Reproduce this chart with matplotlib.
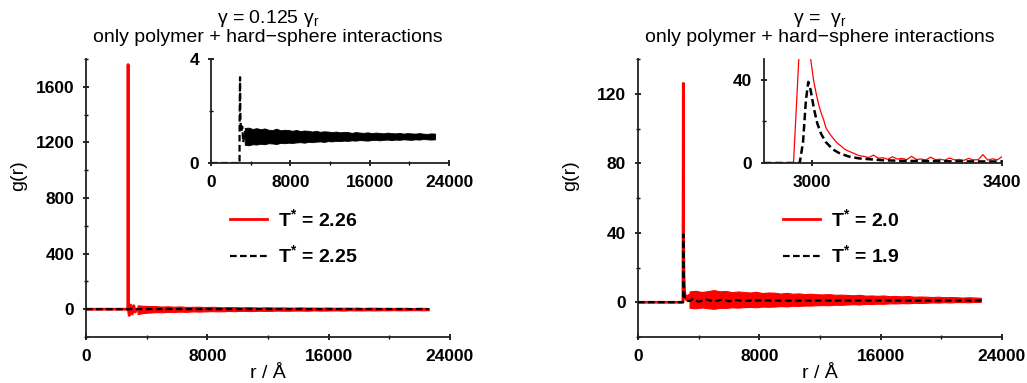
import matplotlib
matplotlib.use("Agg")
import matplotlib.pyplot as plt
from matplotlib.ticker import MultipleLocator

plt.rcParams['font.family'] = ['Liberation Sans', 'DejaVu Sans']
plt.rcParams['mathtext.fontset'] = 'custom'
plt.rcParams['mathtext.rm'] = 'Liberation Sans'
plt.rcParams['mathtext.it'] = 'Liberation Sans'
plt.rcParams['mathtext.bf'] = 'Liberation Sans:bold'

# ---- data ----
# common grid for the noisy tails (r in Angstrom)
r_tail = [3400, 3800, 4200, 4600, 5000, 5400, 5800, 6200, 6600, 7000,
          7400, 7800, 8200, 8600, 9000, 9400, 9800, 10200, 10600, 11000,
          11400, 11800, 12200, 12600, 13000, 13400, 13800, 14200, 14600, 15000,
          15400, 15800, 16200, 16600, 17000, 17400, 17800, 18200, 18600, 19000,
          19400, 19800, 20200, 20600, 21000, 21400, 21800, 22200, 22600]

# left panel, gamma = 0.125 gamma_r
# T* = 2.26 (red): spike then noisy tail
red_L_r = [0, 2760, 2775, 2790, 2850, 2950, 3050, 3150, 3250, 3400]
red_L_g = [0, 0, 1760, 0, -45, 30, -35, 25, -20, 0]
red_L_hi = [28, 24, 23, 22, 19, 21, 18, 20, 16, 17, 18, 15, 17, 16, 14, 16, 15, 13, 15, 14,
            12, 14, 13, 12, 13, 11, 12, 13, 11, 12, 10, 12, 11, 10, 11, 10, 11, 9, 10, 11,
            9, 10, 9, 9, 10, 8, 9, 10, 8]
red_L_lo = [-35, -27, -24, -21, -22, -19, -20, -17, -19, -16, -17, -16, -14, -15, -15, -13, -14, -12, -13, -13,
            -11, -12, -12, -10, -11, -11, -10, -10, -11, -9, -10, -10, -9, -9, -10, -8, -9, -9, -8,
            -9, -8, -8, -7, -8, -8, -7, -7, -8, -7]

# T* = 2.25 (black dashed)
blk_L_r = [0, 2880, 2882, 2900, 2915, 2930, 2945, 2960, 2990, 3050, 3150, 3250, 3400]
blk_L_g = [0, 0, 1.3, 2.2, 2.9, 3.3, 2.6, 1.9, 1.5, 1.2, 1.4, 0.8, 1.2]
blk_L_hi = [1.35, 1.36, 1.31, 1.34, 1.30, 1.33, 1.28, 1.27, 1.32, 1.26, 1.28, 1.27, 1.24, 1.27, 1.23, 1.25,
            1.24, 1.21, 1.24, 1.20, 1.22, 1.21, 1.19, 1.21, 1.18, 1.20, 1.19, 1.16, 1.19, 1.17, 1.16, 1.18,
            1.15, 1.17, 1.16, 1.14, 1.17, 1.15, 1.14, 1.16, 1.13, 1.15, 1.14, 1.13, 1.15, 1.13, 1.12, 1.14, 1.13]
blk_L_lo = [0.70, 0.68, 0.72, 0.71, 0.74, 0.72, 0.76, 0.75, 0.73, 0.77, 0.76, 0.78, 0.77, 0.79, 0.80, 0.78,
            0.81, 0.80, 0.82, 0.83, 0.81, 0.84, 0.83, 0.85, 0.84, 0.86, 0.85, 0.87, 0.86, 0.88, 0.87, 0.86,
            0.88, 0.89, 0.87, 0.89, 0.90, 0.88, 0.90, 0.89, 0.91, 0.90, 0.89, 0.91, 0.90, 0.92, 0.91, 0.90, 0.91]

# right panel, gamma = gamma_r
# T* = 2.0 (red)
red_R_r = [0, 2962, 2990, 2998, 3004, 3010, 3015, 3020, 3025, 3030, 3038, 3045, 3052, 3060, 3070,
           3080, 3090, 3100, 3110, 3120, 3130, 3140, 3150, 3160, 3170, 3180, 3190, 3200, 3210,
           3220, 3230, 3240, 3250, 3260, 3270, 3280, 3290, 3300, 3310, 3320, 3330, 3340, 3350,
           3360, 3370, 3380, 3390, 3400]
red_R_g = [0, 0, 126, 50, 40, 33, 28, 24, 21, 17, 14, 12, 10, 8.5, 6.5,
           5.5, 4.5, 3.5, 3.2, 2.6, 3.8, 2.3, 2.5, 1.8, 3.0, 1.9, 2.2, 1.6, 3.2,
           1.7, 1.9, 1.5, 2.8, 1.6, 1.8, 1.4, 2.4, 1.5, 1.7, 1.3, 2.2, 1.5, 1.6,
           4.0, 1.4, 2.0, 1.5, 3.0]
red_R_hi = [6.2, 6.6, 5.9, 6.4, 7.0, 6.3, 6.5, 5.8, 6.2, 5.9, 5.6, 6.0, 5.3, 5.6, 5.5, 5.0,
            5.4, 4.9, 5.1, 4.7, 4.9, 4.6, 4.5, 4.7, 4.3, 4.4, 4.2, 4.0, 4.3, 3.8, 3.9, 3.7,
            3.9, 3.5, 3.6, 3.4, 3.6, 3.2, 3.3, 3.2, 3.0, 3.2, 2.9, 3.0, 2.9, 2.7, 2.9, 2.7, 2.6]
red_R_lo = [-3.2, -3.5, -3.0, -3.4, -3.8, -3.2, -3.3, -2.9, -3.1, -2.8, -2.7, -2.9, -2.5, -2.6, -2.5, -2.2,
            -2.4, -2.0, -2.1, -1.9, -1.9, -1.7, -1.6, -1.7, -1.4, -1.5, -1.3, -1.1, -1.3, -0.9, -1.0, -0.8,
            -0.9, -0.6, -0.7, -0.5, -0.6, -0.3, -0.4, -0.3, -0.1, -0.2, 0.0, -0.1, 0.1, 0.1, 0.0, 0.2, 0.2]

# T* = 1.9 (black dashed)
blk_R_r = [0, 2975, 2982, 2988, 2993, 2998, 3005, 3012, 3020, 3030, 3045, 3060, 3080, 3100,
           3150, 3200, 3300, 3400, 3600, 4000, 4500, 5000, 5500, 6000, 6500, 7000,
           8000, 10000, 12000, 14000, 16000, 18000, 20000, 22700]
blk_R_g = [0, 0, 10, 30, 39, 35, 26, 19, 14, 10, 6.5, 4.5, 3.0, 2.2,
           1.3, 1.0, 0.8, 0.7, 1.8, 0.3, 1.6, 0.5, 1.4, 0.6, 1.2, 0.8,
           1.1, 0.9, 1.0, 1.0, 1.0, 1.0, 1.0, 1.0]

labels_L = [r'$\mathbf{T^{*}}$ = 2.26', r'$\mathbf{T^{*}}$ = 2.25']
labels_R = [r'$\mathbf{T^{*}}$ = 2.0', r'$\mathbf{T^{*}}$ = 1.9']
titles = ['γ = 0.125 γ$_\\mathrm{r}$', 'γ =  γ$_\\mathrm{r}$']
subtitle = 'only polymer + hard\u2212sphere interactions'

RED = '#ff0000'
DASH = (3, 1.5)

W, H = 1027, 383
fig = plt.figure(figsize=(W / 100, H / 100), dpi=100)


def px_axes(x0, y0, x1, y1):
    # axes from pixel box (left, top, right, bottom)
    return fig.add_axes([x0 / W, 1 - y1 / H, (x1 - x0) / W, (y1 - y0) / H])


def style(ax):
    for s in ['top', 'right']:
        ax.spines[s].set_visible(False)
    for s in ['left', 'bottom']:
        ax.spines[s].set_linewidth(1.3)
        ax.spines[s].set_color('#222222')
    ax.tick_params(which='major', direction='inout', length=5, width=1.2,
                   labelsize=12.5, pad=6)
    ax.tick_params(which='minor', direction='inout', length=3, width=1)
    for t in ax.get_xticklabels() + ax.get_yticklabels():
        t.set_fontweight('bold')


def labels(ax, title, leg_x):
    ax.set_ylabel('g(r)', fontsize=14)
    ax.yaxis.set_label_coords(-59 / 364, 0.58)
    ax.set_xlabel('r / Å', fontsize=14, labelpad=1)
    ax.set_title(title + '\n' + subtitle, fontsize=14, linespacing=1.0, pad=12)
    ax.legend(frameon=False, loc='upper left', bbox_to_anchor=(leg_x / W, 1 - 208 / H),
              bbox_transform=fig.transFigure, handlelength=1.9, handletextpad=0.55,
              labelspacing=0.75, borderpad=0, borderaxespad=0,
              prop={'size': 14, 'weight': 'bold'})


# ---------------- left panel ----------------
axL = px_axes(86, 59, 450, 337)
axL.plot(red_L_r, red_L_g, color=RED, lw=2, zorder=2)
axL.fill_between(r_tail, red_L_lo, red_L_hi, color=RED, lw=0.8, zorder=2)
axL.plot(blk_L_r + r_tail, blk_L_g + [0.5 * (a + b) for a, b in zip(blk_L_hi, blk_L_lo)],
         color='black', lw=1.6, dashes=DASH, zorder=3)
axL.plot([], [], color=RED, lw=2, label=labels_L[0])
axL.plot([], [], color='black', lw=1.6, dashes=DASH, label=labels_L[1])
axL.set_xlim(0, 24000)
axL.set_ylim(-200, 1800)
axL.set_xticks([0, 8000, 16000, 24000])
axL.set_yticks([0, 400, 800, 1200, 1600])
axL.xaxis.set_minor_locator(MultipleLocator(4000))
axL.yaxis.set_minor_locator(MultipleLocator(200))
style(axL)
labels(axL, titles[0], 230)

# inset left
inL = px_axes(211, 59, 449, 163)
inL.plot(blk_L_r, blk_L_g, color='black', lw=1.6, dashes=DASH)
inL.fill_between(r_tail, blk_L_lo, blk_L_hi, color='black', lw=0.6)
inL.plot([blk_L_r[-1], r_tail[0]], [blk_L_g[-1], 0.5 * (blk_L_hi[0] + blk_L_lo[0])], color='black', lw=1.5)
inL.set_xlim(0, 24000)
inL.set_ylim(0, 4)
inL.set_xticks([0, 8000, 16000, 24000])
inL.set_yticks([0, 4])
inL.xaxis.set_minor_locator(MultipleLocator(4000))
inL.yaxis.set_minor_locator(MultipleLocator(2))
inL.patch.set_alpha(0)
style(inL)

# ---------------- right panel ----------------
axR = px_axes(638, 59, 1002, 337)
axR.plot(red_R_r, red_R_g, color=RED, lw=2, zorder=2)
axR.fill_between(r_tail, red_R_lo, red_R_hi, color=RED, lw=0.8, zorder=2)
axR.plot(blk_R_r, blk_R_g, color='black', lw=1.6, dashes=DASH, zorder=3)
axR.plot([], [], color=RED, lw=2, label=labels_R[0])
axR.plot([], [], color='black', lw=1.6, dashes=DASH, label=labels_R[1])
axR.set_xlim(0, 24000)
axR.set_ylim(-20, 140)
axR.set_xticks([0, 8000, 16000, 24000])
axR.set_yticks([0, 40, 80, 120])
axR.xaxis.set_minor_locator(MultipleLocator(4000))
axR.yaxis.set_minor_locator(MultipleLocator(20))
style(axR)
labels(axR, titles[1], 783)

# inset right
inR = px_axes(764, 59, 1002, 163)
inR.plot(red_R_r, red_R_g, color=RED, lw=0.9)
inR.plot(blk_R_r, blk_R_g, color='black', lw=1.8, dashes=DASH)
inR.set_xlim(2900, 3400)
inR.set_ylim(0, 50)
inR.set_xticks([3000, 3400])
inR.set_yticks([0, 40])
inR.yaxis.set_minor_locator(MultipleLocator(20))
inR.patch.set_alpha(0)
style(inR)

fig.savefig('out.png', dpi=100)
